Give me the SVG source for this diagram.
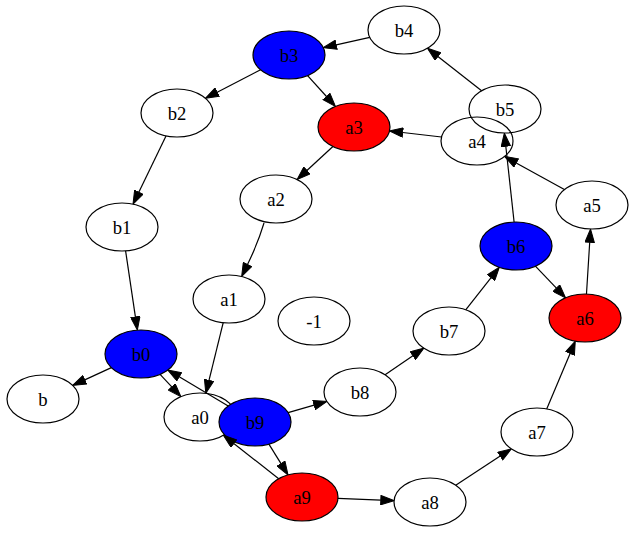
<svg xmlns="http://www.w3.org/2000/svg" width="635" height="533" viewBox="0 0 635 533">
<style>
.n ellipse{stroke:#000;stroke-width:1.2;fill:none}
.n.blue ellipse{fill:#0000ff}
.n.red ellipse{fill:#ff0000}
.n text{font-family:"Liberation Serif","Times New Roman",serif;font-size:18.67px;text-anchor:middle;fill:#000}
#edges line,#edges path{stroke:#000;stroke-width:1.2;fill:none;marker-end:url(#ah)}
</style>
<defs>
<marker id="ah" markerUnits="userSpaceOnUse" viewBox="0 0 14 10" refX="0.5" refY="5" markerWidth="14" markerHeight="10" orient="auto">
<path d="M0.5,0.33 L13.8,5 L0.5,9.67 Z" fill="#000" stroke="#000" stroke-width="1"/>
</marker>
</defs>
<rect width="635" height="533" fill="#fff"/>
<g id="nodes">
<g id="b4" class="n"><ellipse cx="404" cy="30" rx="36" ry="24"/><text x="404" y="36.5">b4</text></g>
<g id="b3" class="n blue"><ellipse cx="289" cy="55" rx="36" ry="24"/><text x="289" y="61.5">b3</text></g>
<g id="b2" class="n"><ellipse cx="177" cy="113" rx="36" ry="24"/><text x="177" y="119.5">b2</text></g>
<g id="a3" class="n red"><ellipse cx="354" cy="127" rx="36" ry="24"/><text x="354" y="133.5">a3</text></g>
<g id="b5" class="n"><ellipse cx="505" cy="109" rx="36" ry="24"/><text x="505" y="115.5">b5</text></g>
<g id="a4" class="n"><ellipse cx="477" cy="141" rx="36" ry="24"/><text x="477" y="147.5">a4</text></g>
<g id="b1" class="n"><ellipse cx="122" cy="227" rx="36" ry="24"/><text x="122" y="233.5">b1</text></g>
<g id="a2" class="n"><ellipse cx="276" cy="199" rx="36" ry="24"/><text x="276" y="205.5">a2</text></g>
<g id="a5" class="n"><ellipse cx="592" cy="205" rx="36" ry="24"/><text x="592" y="211.5">a5</text></g>
<g id="b6" class="n blue"><ellipse cx="516" cy="246" rx="36" ry="24"/><text x="516" y="252.5">b6</text></g>
<g id="a1" class="n"><ellipse cx="229" cy="299" rx="36" ry="24"/><text x="229" y="305.5">a1</text></g>
<g id="m1" class="n"><ellipse cx="314" cy="321" rx="36" ry="24"/><text x="314" y="327.5">-1</text></g>
<g id="a6" class="n red"><ellipse cx="585" cy="318" rx="36" ry="24"/><text x="585" y="324.5">a6</text></g>
<g id="b7" class="n"><ellipse cx="449" cy="331" rx="36" ry="24"/><text x="449" y="337.5">b7</text></g>
<g id="b0" class="n blue"><ellipse cx="141" cy="354" rx="36" ry="24"/><text x="141" y="360.5">b0</text></g>
<g id="b" class="n"><ellipse cx="43" cy="399" rx="36" ry="24"/><text x="43" y="405.5">b</text></g>
<g id="b8" class="n"><ellipse cx="360" cy="392" rx="36" ry="24"/><text x="360" y="398.5">b8</text></g>
<g id="a0" class="n"><ellipse cx="200" cy="417" rx="36" ry="24"/><text x="200" y="423.5">a0</text></g>
<g id="b9" class="n blue"><ellipse cx="255" cy="422" rx="36" ry="24"/><text x="255" y="428.5">b9</text></g>
<g id="a7" class="n"><ellipse cx="537" cy="432" rx="36" ry="24"/><text x="537" y="438.5">a7</text></g>
<g id="a9" class="n red"><ellipse cx="302" cy="497" rx="36" ry="24"/><text x="302" y="503.5">a9</text></g>
<g id="a8" class="n"><ellipse cx="430" cy="502" rx="36" ry="24"/><text x="430" y="508.5">a8</text></g>
</g>
<g id="edges">
<line x1="369.8" y1="37.4" x2="336.2" y2="44.8"/>
<line x1="481.6" y1="90.7" x2="437.9" y2="56.5"/>
<line x1="260.6" y1="69.7" x2="217.2" y2="92.2"/>
<line x1="307.6" y1="75.6" x2="326.5" y2="96.5"/>
<line x1="441.5" y1="137" x2="402.7" y2="132.5"/>
<line x1="166" y1="135.9" x2="138.8" y2="192.2"/>
<line x1="332.9" y1="146.5" x2="306.9" y2="170.5"/>
<path d="M264,223 Q258,243 247.5,264.5"/>
<line x1="125.6" y1="250.9" x2="135.4" y2="316.9"/>
<line x1="223.2" y1="322.7" x2="209" y2="380.4"/>
<line x1="111.35" y1="367.6" x2="84.75" y2="379.85"/>
<line x1="160.1" y1="374.4" x2="171.8" y2="386.9"/>
<line x1="228.2" y1="406" x2="179.2" y2="376.8"/>
<line x1="288.1" y1="412.55" x2="314.1" y2="405.1"/>
<line x1="268.9" y1="444.1" x2="281" y2="463.6"/>
<line x1="278.7" y1="478.7" x2="233.8" y2="443.5"/>
<line x1="385.1" y1="374.8" x2="412.9" y2="355.7"/>
<line x1="465.7" y1="309.8" x2="491.1" y2="277.6"/>
<line x1="514.1" y1="222" x2="505.8" y2="146.3"/>
<line x1="535.4" y1="266.2" x2="556.4" y2="288.2"/>
<line x1="564.4" y1="189.6" x2="516.2" y2="162.9"/>
<line x1="586.5" y1="294" x2="589.7" y2="242.3"/>
<line x1="546.7" y1="408.9" x2="570.1" y2="353.4"/>
<line x1="455.7" y1="485.2" x2="500.2" y2="456.1"/>
<line x1="337.9" y1="498.4" x2="380.8" y2="500.1"/>
</g>
</svg>
